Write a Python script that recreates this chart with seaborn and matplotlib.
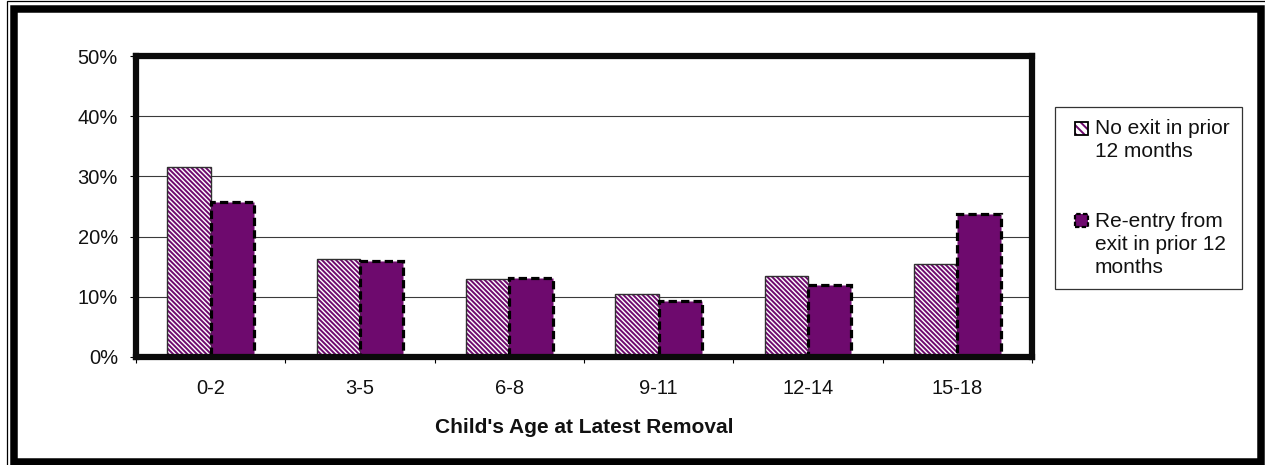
import matplotlib
matplotlib.use("Agg")
import matplotlib.pyplot as plt
from matplotlib.patches import Rectangle, Patch
from matplotlib.legend_handler import HandlerBase
from matplotlib.ticker import FixedLocator, PercentFormatter
import numpy as np
import pandas as pd
import seaborn as sns

# Share of removals by child's age, two entry groups (percent)
age_groups = ["0-2", "3-5", "6-8", "9-11", "12-14", "15-18"]
no_exit_pct = [31.6, 16.2, 13.0, 10.5, 13.5, 15.5]
reentry_pct = [25.8, 16.0, 13.2, 9.3, 12.0, 23.7]
series_names = ["No exit in prior\n12 months", "Re-entry from\nexit in prior 12\nmonths"]
y_ticks = [0, 10, 20, 30, 40, 50]

PURPLE = "#6E0A6E"
HATCH = "\\" * 7
DASHES = (0, (2.6, 1.3))
FS = 14.5

sns.set_theme(style="white")
plt.rcParams["font.family"] = ["Liberation Sans", "DejaVu Sans"]
plt.rcParams["hatch.linewidth"] = 1.4

df = pd.DataFrame({
    "age": age_groups * 2,
    "pct": no_exit_pct + reentry_pct,
    "group": [series_names[0]] * len(age_groups) + [series_names[1]] * len(age_groups),
})

W, H = 1265, 465
fig = plt.figure(figsize=(W / 100, H / 100), dpi=100)
fig.patch.set_facecolor("white")

# plot area in pixel coordinates
left, right, top, bottom = 136, 1032, 56, 357
ax = fig.add_axes([left / W, 1 - bottom / H, (right - left) / W, (bottom - top) / H])

sns.barplot(data=df, x="age", y="pct", hue="group", order=age_groups,
            hue_order=series_names, palette=["white", PURPLE], width=0.58,
            saturation=1, ax=ax, legend=False, zorder=3)

# hatched series: purple diagonal stripes with a thin dark outline
for bar in ax.containers[0]:
    bar.set_facecolor("white")
    bar.set_edgecolor(PURPLE)
    bar.set_hatch(HATCH)
    bar.set_linewidth(0)
    ax.add_patch(Rectangle((bar.get_x(), bar.get_y()), bar.get_width(), bar.get_height(),
                           fill=False, edgecolor="#303030", linewidth=1.0, zorder=3.5))

# solid series: purple fill with heavy dashed outline
for bar in ax.containers[1]:
    bar.set_facecolor(PURPLE)
    bar.set_edgecolor("black")
    bar.set_linewidth(2.3)
    bar.set_linestyle(DASHES)
    bar.set_zorder(4)

ax.set_xlim(-0.5, len(age_groups) - 0.5)
ax.set_ylim(0, 50)
ax.yaxis.set_major_locator(FixedLocator(y_ticks))
ax.yaxis.set_major_formatter(PercentFormatter(decimals=0))
ax.yaxis.grid(True, color="#3a3a3a", linewidth=0.8, zorder=0)
ax.set_axisbelow(True)

# category boundaries carry the tick marks, centres carry the labels
ax.xaxis.set_major_locator(FixedLocator(np.arange(-0.5, len(age_groups), 1.0)))
ax.xaxis.set_minor_locator(FixedLocator(np.arange(len(age_groups))))
ax.set_xticklabels([], minor=False)
ax.set_xticklabels(age_groups, minor=True)
ax.tick_params(axis="x", which="major", length=4, width=0.8, color="black", bottom=True, direction="out")
ax.tick_params(axis="x", which="minor", length=0, pad=15.5, labelsize=FS, labelcolor="#111111")
ax.tick_params(axis="y", length=4, width=0.8, color="black", left=True, direction="out",
               pad=9, labelsize=FS, labelcolor="#111111")

for sp in ax.spines.values():
    sp.set_visible(True)
    sp.set_color("#0a0a0a")
    sp.set_linewidth(4.5)
    sp.set_zorder(5)

ax.set_xlabel("Child's Age at Latest Removal", fontsize=15, fontweight="bold",
              color="#111111", labelpad=15)
ax.set_ylabel("")


class SwatchHandler(HandlerBase):
    """Small square swatch aligned with the first line of a multi-line label."""

    def __init__(self, n_lines, kind):
        super().__init__()
        self.n_lines = n_lines
        self.kind = kind

    def create_artists(self, legend, orig_handle, xdescent, ydescent, width, height,
                       fontsize, trans):
        size = 0.62 * fontsize
        x0 = -xdescent + width - size
        y0 = -ydescent + (height - size) / 2 + (self.n_lines - 1) * 0.5 * 1.15 * fontsize
        if self.kind == "hatch":
            arts = [Rectangle((x0, y0), size, size, facecolor="white", edgecolor=PURPLE,
                              hatch="\\" * 4, linewidth=0),
                    Rectangle((x0, y0), size, size, fill=False, edgecolor="black",
                              linewidth=1.3)]
        else:
            arts = [Rectangle((x0, y0), size, size, facecolor=PURPLE, edgecolor="black",
                              linewidth=1.6, linestyle=(0, (2, 1)))]
        for a in arts:
            a.set_transform(trans)
        return arts


h_hatch = Patch(facecolor="white", edgecolor=PURPLE)
h_solid = Patch(facecolor=PURPLE, edgecolor="black")
leg = fig.legend([h_hatch, h_solid], series_names, loc="upper left",
                 bbox_to_anchor=(1055 / W, 1 - 107 / H), bbox_transform=fig.transFigure,
                 handler_map={h_hatch: SwatchHandler(2, "hatch"),
                              h_solid: SwatchHandler(3, "solid")},
                 frameon=True, fancybox=False, edgecolor="black",
                 prop={"size": 15, "family": ["Liberation Sans", "DejaVu Sans"]},
                 handlelength=1.0, handleheight=0.7, handletextpad=0.3,
                 borderpad=0.6, labelspacing=2.45, borderaxespad=0)
leg.get_frame().set_linewidth(0.9)
for t in leg.get_texts():
    t.set_color("#111111")
    t.set_linespacing(1.25)

# double frame around the whole chart
fig.add_artist(Rectangle((7 / W, -0.1), 1.2, 1 - 1.5 / H + 0.1, transform=fig.transFigure,
                         fill=False, edgecolor="black", linewidth=0.9))
fig.add_artist(Rectangle((13.5 / W, 1 - 461.5 / H), (1260.5 - 13.5) / W, (461.5 - 9.5) / H,
                         transform=fig.transFigure, fill=False, edgecolor="black",
                         linewidth=5.4))

fig.savefig("out.png", dpi=100, facecolor="white")
